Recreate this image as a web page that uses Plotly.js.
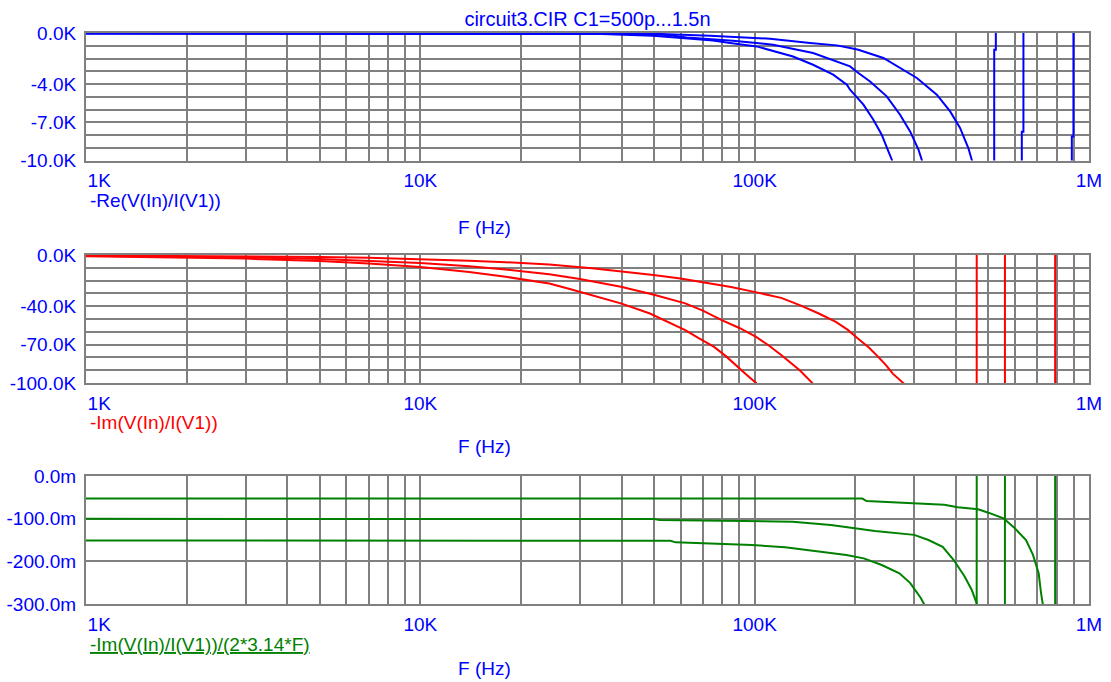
<!DOCTYPE html>
<html>
<head>
<meta charset="utf-8">
<script src="https://cdn.plot.ly/plotly-3.0.1.min.js"></script>
<style>html,body{margin:0;padding:0;background:#fff;}#chart{width:1111px;height:682px;}</style>
</head>
<body>
<div id="chart"></div>
<script>
// ---------- data (frequency in Hz) ----------
// Top: -Re(V(In)/I(V1)), ohms
const reA_f = [1e3, 1e4, 35e3, 49.7e3, 75.1e3, 84.4e3, 101.4e3, 130.2e3, 149.5e3, 171.7e3, 188.7e3, 192.9e3, 211.5e3, 226.5e3, 239.9e3, 251.2e3, 257.2e3, 300e3, 400e3, 480e3, 519e3, 520.6e3, 526.4e3, 527e3, 700e3, 1e6];
const reA_v = [-40, -50, -80, -210, -580, -780, -1050, -1840, -2490, -3270, -4050, -4450, -5620, -6800, -7980, -9290, -9940, -16000, -40000, -150000, -1e6, -1310, -1310, 1e6, 40000, 12000];
const reB_f = [1e3, 1e4, 40e3, 55e3, 62.6e3, 86.1e3, 113.5e3, 149.5e3, 176.1e3, 192.9e3, 204.3e3, 221.4e3, 248.3e3, 272.2e3, 291.7e3, 309e3, 316e3, 400e3, 500e3, 600e3, 628e3, 629.6e3, 636.6e3, 640e3, 800e3, 1e6];
const reB_v = [-30, -40, -60, -150, -350, -600, -920, -1570, -2230, -2620, -3140, -3800, -4970, -6410, -7720, -9150, -9940, -22000, -60000, -300000, -1e6, -7740, -7740, 1e6, 40000, 15000];
const reC_f = [1e3, 1e4, 50e3, 73.6e3, 111.2e3, 146.4e3, 176.1e3, 192.9e3, 204.3e3, 242.6e3, 305.6e3, 350.6e3, 384.3e3, 411.5e3, 435.6e3, 445.9e3, 550e3, 700e3, 850e3, 885e3, 888.5e3, 898.4e3, 900e3, 950e3, 1e6];
const reC_v = [-20, -30, -60, -210, -450, -780, -970, -1180, -1310, -1960, -3530, -4840, -6150, -7450, -9020, -9940, -20000, -60000, -400000, -1e6, -8110, -8110, 1e6, 100000, 50000];

// Middle: -Im(V(In)/I(V1)), ohms
const imA_f = [1e3, 2e3, 3e3, 5e3, 7e3, 10e3, 14e3, 18e3, 24.3e3, 28e3, 32.6e3, 40e3, 48.6e3, 55e3, 62e3, 68e3, 75.6e3, 82e3, 87.7e3, 94e3, 101e3, 150e3, 300e3, 460e3, 463e3, 600e3, 1e6];
const imA_v = [-940, -1880, -2830, -4700, -6600, -9400, -13200, -17000, -22200, -26500, -31300, -38000, -45700, -52000, -58700, -65000, -71800, -79000, -86100, -93000, -100000, -170000, -500000, -3e6, 3e6, 400000, 200000];
const imB_f = [1e3, 2e3, 3e3, 5e3, 7e3, 10e3, 14e3, 18e3, 24.3e3, 30e3, 39.8e3, 50e3, 62e3, 70e3, 79.7e3, 90e3, 101e3, 110e3, 120.3e3, 128e3, 136.4e3, 148.8e3, 250e3, 450e3, 559e3, 562e3, 700e3, 1e6];
const imB_v = [-630, -1260, -1890, -3140, -4400, -6300, -8800, -11300, -15100, -18800, -24800, -31000, -37800, -43500, -50900, -57000, -64000, -70500, -78300, -84000, -90100, -100000, -200000, -700000, -3e6, 3e6, 500000, 200000];
const imC_f = [1e3, 2e3, 3e3, 5e3, 7e3, 10e3, 14e3, 18e3, 24.3e3, 32.6e3, 40e3, 49.8e3, 60e3, 70.4e3, 85e3, 100.5e3, 120e3, 136.4e3, 155e3, 174.9e3, 190e3, 203.6e3, 220e3, 234.2e3, 247e3, 258.9e3, 278.3e3, 400e3, 650e3, 790e3, 794e3, 900e3, 1e6];
const imC_v = [-310, -630, -940, -1570, -2200, -3150, -4400, -5650, -7400, -10300, -12800, -15700, -18400, -21200, -25000, -29000, -33500, -39200, -45500, -52200, -58500, -65300, -72500, -79600, -86000, -92700, -100000, -220000, -800000, -3e6, 3e6, 800000, 400000];

// Bottom: -Im(V(In)/I(V1))/(2*3.14*F)
const lA_f = [1e3, 56e3, 58e3, 97.9e3, 123.3e3, 143.3e3, 188e3, 212e3, 240e3, 271e3, 292e3, 314e3, 322e3, 400e3, 460e3, 463e3, 600e3, 1e6];
const lA_v = [-0.151, -0.152, -0.1555, -0.1617, -0.167, -0.173, -0.185, -0.193, -0.2086, -0.228, -0.251, -0.286, -0.302, -0.8, -5, 5, 1, 0.5];
const lB_f = [1e3, 50e3, 52e3, 130e3, 169e3, 229e3, 300e3, 331e3, 365e3, 394e3, 425e3, 446e3, 463e3, 520e3, 559e3, 562e3, 700e3, 1e6];
const lB_v = [-0.1005, -0.101, -0.103, -0.107, -0.115, -0.129, -0.138, -0.150, -0.166, -0.197, -0.236, -0.267, -0.302, -1, -5, 5, 1, 0.5];
const lC_f = [1e3, 210e3, 216e3, 309e3, 369e3, 405e3, 466e3, 500e3, 555e3, 600e3, 648e3, 680e3, 707e3, 719e3, 728e3, 760e3, 790e3, 794e3, 900e3, 1e6];
const lC_v = [-0.053, -0.053, -0.0586, -0.064, -0.0672, -0.0734, -0.078, -0.086, -0.0993, -0.1227, -0.150, -0.185, -0.228, -0.275, -0.302, -1, -5, 5, 1, 0.5];

// ticks
const xTickVals = [1e3,2e3,3e3,4e3,5e3,6e3,7e3,8e3,9e3,1e4,2e4,3e4,4e4,5e4,6e4,7e4,8e4,9e4,1e5,2e5,3e5,4e5,5e5,6e5,7e5,8e5,9e5,1e6];
const xTickText = ['\u00a0\u00a0\u00a0\u00a0\u00a01K','','','','','','','','','10K','','','','','','','','','100K','','','','','','','','','1M'];
const y1TickVals = [0,-1000,-2000,-3000,-4000,-5000,-6000,-7000,-8000,-9000,-10000];
const y1TickText = ['0.0K','','','','-4.0K','','','-7.0K','','','-10.0K'];
const y2TickVals = [0,-10000,-20000,-30000,-40000,-50000,-60000,-70000,-80000,-90000,-100000];
const y2TickText = ['0.0K','','','','-40.0K','','','-70.0K','','','-100.0K'];
const y3TickVals = [0,-0.1,-0.2,-0.3];
const y3TickText = ['0.0m','-100.0m','-200.0m','-300.0m'];

const BLUE = '#0000ff', RED = '#ff0000', GREEN = '#008000', GRID = '#808080';
const FONT = 'Liberation Sans, Arial, sans-serif';

function tr(f, v, color, xa, ya, w) {
  return {x: f, y: v, type: 'scatter', mode: 'lines', xaxis: xa, yaxis: ya,
          line: {color: color, width: w || 2}, hoverinfo: 'skip', cliponaxis: true};
}
const data = [
  tr(reA_f, reA_v, BLUE, 'x', 'y'), tr(reB_f, reB_v, BLUE, 'x', 'y'), tr(reC_f, reC_v, BLUE, 'x', 'y'),
  tr(imA_f, imA_v, RED, 'x2', 'y2'), tr(imB_f, imB_v, RED, 'x2', 'y2'), tr(imC_f, imC_v, RED, 'x2', 'y2'),
  tr(lA_f, lA_v, GREEN, 'x3', 'y3'), tr(lB_f, lB_v, GREEN, 'x3', 'y3'), tr(lC_f, lC_v, GREEN, 'x3', 'y3')
];

function xax(anchor) {
  return {type: 'log', range: [3, 6], anchor: anchor, domain: [0, 1],
    tickmode: 'array', tickvals: xTickVals, ticktext: xTickText,
    showgrid: true, gridcolor: GRID, gridwidth: 2, zeroline: false,
    showline: true, mirror: true, linecolor: GRID, linewidth: 2,
    ticks: '', ticklabelstandoff: 2,
    tickfont: {family: FONT, size: 19, color: BLUE}, fixedrange: true};
}
function yax(anchor, dom, rng, tv, tt) {
  return {range: rng, anchor: anchor, domain: dom,
    tickmode: 'array', tickvals: tv, ticktext: tt,
    showgrid: true, gridcolor: GRID, gridwidth: 2, zeroline: false,
    showline: true, mirror: true, linecolor: GRID, linewidth: 2,
    ticks: '', ticklabelstandoff: 4,
    tickfont: {family: FONT, size: 19, color: BLUE}, fixedrange: true};
}
function ann(text, x, y, color, xanchor) {
  return {text: text, xref: 'paper', yref: 'paper', x: x, y: y, xanchor: xanchor, yanchor: 'middle',
    showarrow: false, font: {family: FONT, size: 19, color: color}};
}

const layout = {
  width: 1111, height: 682,
  margin: {l: 86, r: 22, t: 33, b: 78, pad: 0},
  paper_bgcolor: '#ffffff', plot_bgcolor: '#ffffff',
  showlegend: false,
  font: {family: FONT, size: 19, color: BLUE},
  title: {text: 'circuit3.CIR C1=500p...1.5n', xref: 'paper', x: 0.5, xanchor: 'center',
          yref: 'container', y: 0.972, yanchor: 'middle', font: {family: FONT, size: 20, color: BLUE}},
  xaxis: xax('y'),
  yaxis: yax('x', [0.7767, 1], [-10000, 0], y1TickVals, y1TickText),
  xaxis2: xax('y2'),
  yaxis2: yax('x2', [0.3870, 0.6112], [-100000, 0], y2TickVals, y2TickText),
  xaxis3: xax('y3'),
  yaxis3: yax('x3', [0, 0.2242], [-0.3, 0], y3TickVals, y3TickText),
  annotations: [
    ann('-Re(V(In)/I(V1))', 0.002, 0.7058, BLUE, 'left'),
    ann('F (Hz)', 0.3978, 0.6585, BLUE, 'center'),
    ann('-Im(V(In)/I(V1))', 0.002, 0.3187, RED, 'left'),
    ann('F (Hz)', 0.3978, 0.2750, BLUE, 'center'),
    ann('<u>-Im(V(In)/I(V1))/(2*3.14*F)</u>', 0.002, -0.0718, GREEN, 'left'),
    ann('F (Hz)', 0.3978, -0.1121, BLUE, 'center')
  ]
};

Plotly.newPlot('chart', data, layout, {staticPlot: true, displayModeBar: false});
</script>
</body>
</html>
